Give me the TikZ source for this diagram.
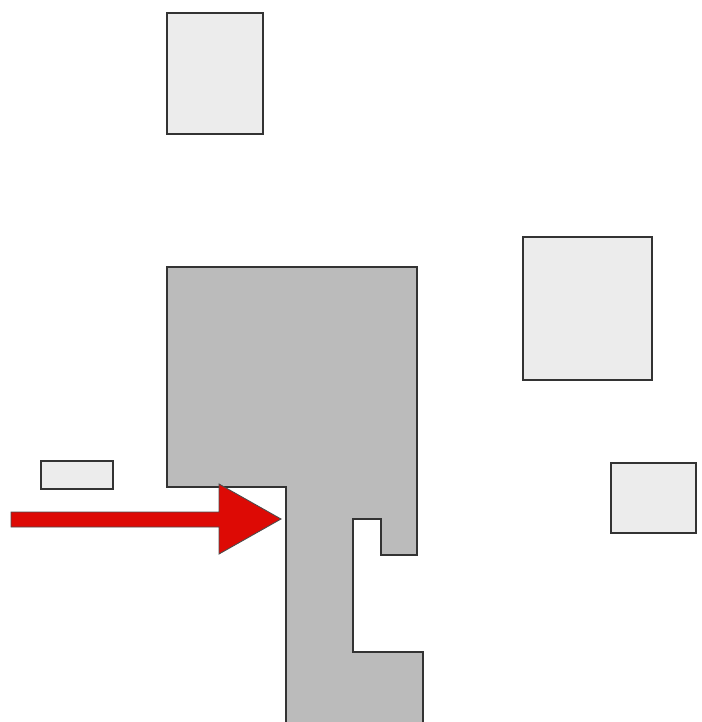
\documentclass[tikz,border=0pt]{standalone}
\definecolor{lightblock}{HTML}{ECECEC}
\definecolor{darkblock}{HTML}{BBBBBB}
\definecolor{arrowred}{HTML}{DD0A05}
\begin{document}
\begin{tikzpicture}[x=0.02cm, y=-0.02cm]
  \tikzset{
    light_block/.style={fill=lightblock, draw=black!80, line width=0.6pt},
    dark_block/.style={fill=darkblock, draw=black!80, line width=0.6pt},
    red_arrow/.style={fill=arrowred, draw=black!70, line width=0.5pt}
  }

  % Marco de la figura
  \useasboundingbox (0,0) rectangle (701,722);
  \clip (0,0) rectangle (701,722);

  % Bloques claros
  \draw[light_block] (167,13) rectangle (263,134);
  \draw[light_block] (523,237) rectangle (652,380);
  \draw[light_block] (611,463) rectangle (696,533);
  \draw[light_block] (41,461) rectangle (113,489);

  % Bloque oscuro (contorno en L con muescas)
  \draw[dark_block] (167,267) -- (417,267) -- (417,555) -- (381,555)
    -- (381,519) -- (353,519) -- (353,652) -- (423,652) -- (423,730)
    -- (286,730) -- (286,487) -- (167,487) -- cycle;

  % Flecha roja
  \draw[red_arrow] (11,512) -- (219,512) -- (219,484) -- (281,519)
    -- (219,554) -- (219,527) -- (11,527) -- cycle;
\end{tikzpicture}
\end{document}
